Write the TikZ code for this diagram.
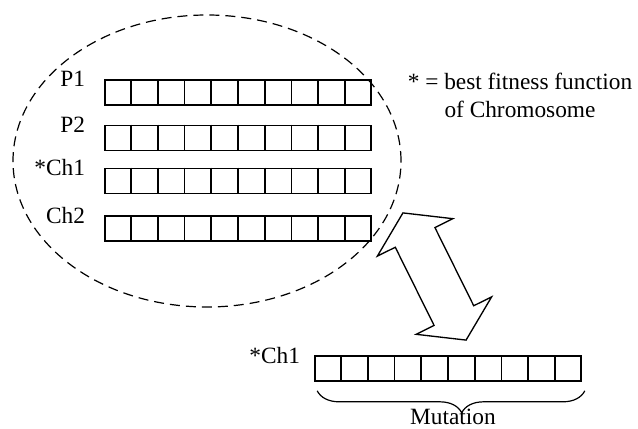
\documentclass[tikz,border=0pt]{standalone}
\usepackage{fontspec}
\setmainfont{Liberation Serif}
\usepackage{tikz}
\usetikzlibrary{positioning}
\usetikzlibrary{calc}
\usetikzlibrary{shapes.arrows}
\usetikzlibrary{decorations.pathreplacing}

\tikzset{
  chrom/.style={draw, line width=1.2pt, minimum width=199.5pt, minimum height=18.75pt, inner sep=0pt},
  lbl/.style={inner sep=0pt, font=\fontsize{17.5}{21}\selectfont},
}

\begin{document}
\begin{tikzpicture}[x=0.75pt, y=0.75pt]
        \useasboundingbox (0,0) rectangle (638,428);

        \draw[dash pattern=on 7.5pt off 4.5pt, line width=0.9pt] (207,267) ellipse (194 and 146);

        \node[chrom] (P1) at (238,335.5) {};
        \node[chrom] (P2) at (238,290) {};
        \node[chrom] (Ch1) at (238,247) {};
        \node[chrom] (Ch2) at (238,199.5) {};
        \node[chrom] (Mut) at (448,59.5) {};

        \foreach \c in {P1,P2,Ch1,Ch2,Mut}
          \foreach \i in {1,...,9}
            \draw[line width=1.2pt] ($(\c.north west)!\i/10!(\c.north east)$)
              -- ($(\c.south west)!\i/10!(\c.south east)$);

        \node[lbl, left=14.25pt of P1.north west] (lP1) {P1};
        \node[lbl, left=14.25pt of P2.north west] (lP2) {P2};
        \node[lbl, left=14.25pt of Ch1.north west] (lCh1) {*Ch1};
        \node[lbl, left=14.25pt of Ch2.north west] (lCh2) {Ch2};
        \node[lbl, left=10.5pt of Mut.north west] (lMut) {*Ch1};

        \node[lbl, align=center] (key) at (520,333) {* = best fitness function\\of Chromosome};

        \node[double arrow, draw, line width=1pt, rotate=-63.6, inner xsep=0pt, inner ysep=16.1pt,
          minimum height=106.5pt,
          double arrow head extend=15pt, double arrow tip angle=114] (swap) at (434.5,151.5) {};

        \draw[decorate, decoration={brace, mirror, amplitude=16.5pt, aspect=0.54}, line width=0.9pt]
          ($(Mut.south west)+(3,-9)$) -- ($(Mut.south east)+(3,-9)$);
        \node[lbl, anchor=base] (mutlbl) at (453,4) {Mutation};
      \end{tikzpicture}
\end{document}
